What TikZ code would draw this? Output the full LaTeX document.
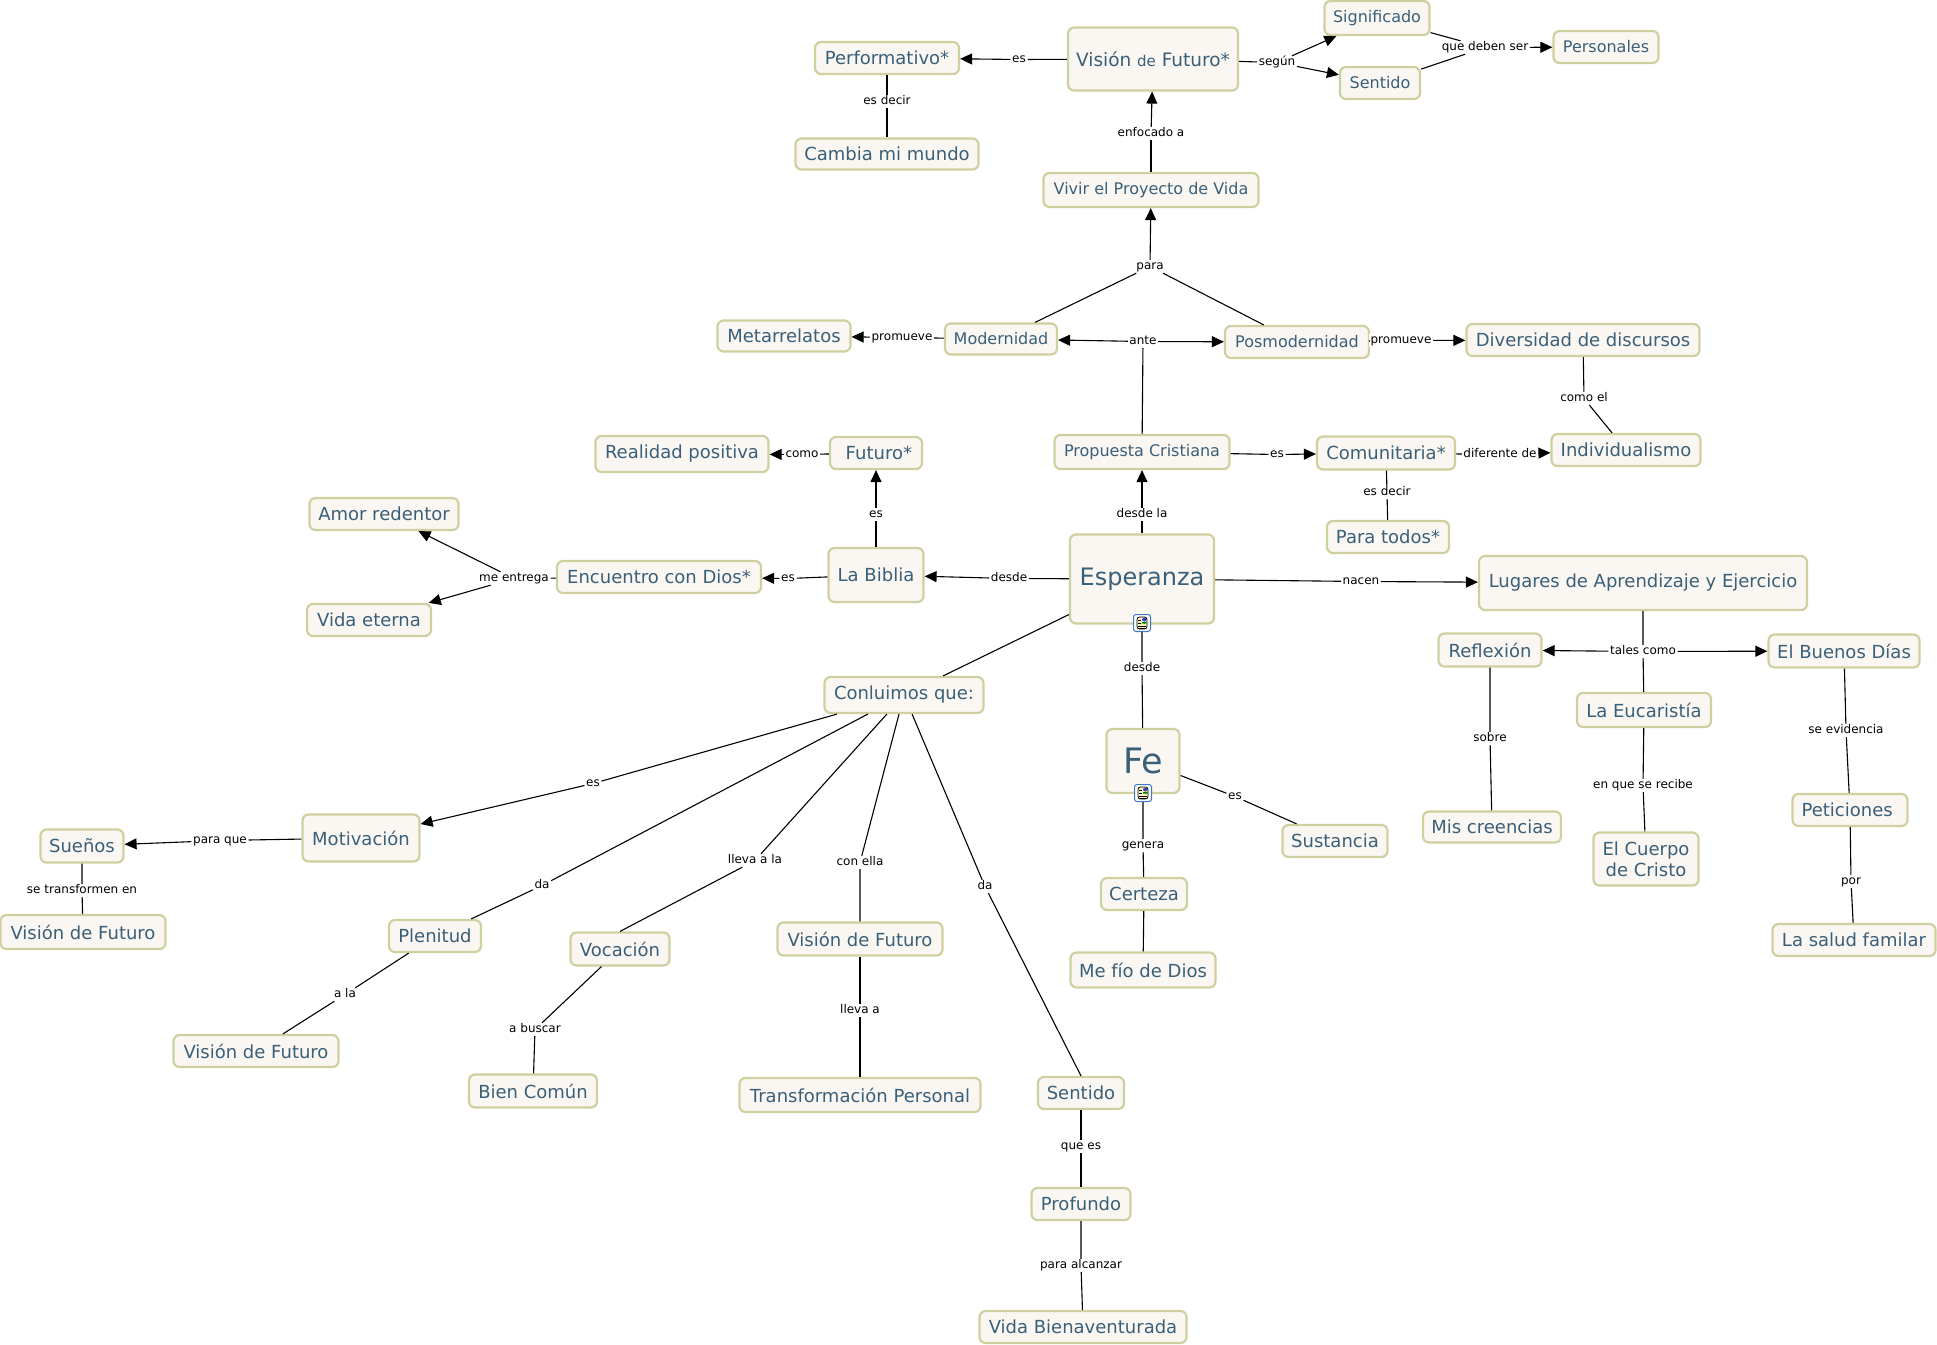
\documentclass[tikz,border=0pt]{standalone}
\usepackage{fontspec}
\setmainfont{DejaVu Sans}
\usetikzlibrary{arrows.meta}
\definecolor{conceptfill}{RGB}{250,247,243}
\definecolor{conceptline}{RGB}{207,207,160}
\definecolor{concepttext}{RGB}{58,95,120}
\definecolor{iconblue}{RGB}{60,120,200}
\definecolor{iconpaper}{RGB}{250,245,190}
\tikzset{
  concept/.style={draw=conceptline, fill=conceptfill, line width=2.2pt, rounded corners=6pt,
    text=concepttext, align=center, inner sep=0pt, font=\fontsize{18}{21}\selectfont},
  smalltext/.style={font=\fontsize{16}{19}\selectfont},
  linklabel/.style={fill=white, text=black, inner xsep=1.5pt, inner ysep=0.5pt, text height=9pt, text depth=3pt, yshift=-1.5pt, font=\fontsize{12}{14}\selectfont},
  link/.style={black, line width=1.1pt},
  docicon/.style={draw=iconblue, fill=white, line width=1pt, rounded corners=2.5pt, minimum size=17pt, inner sep=0pt,
    path picture={
      \fill[iconpaper, draw=black, line width=0.8pt] ([shift={(-5pt,-6pt)}]path picture bounding box.center) rectangle ([shift={(5pt,6pt)}]path picture bounding box.center);
      \fill[green!50!black] ([shift={(0pt,-1pt)}]path picture bounding box.center) rectangle ([shift={(4.5pt,1.5pt)}]path picture bounding box.center);
      \fill[blue!50!gray] ([shift={(0pt,1.5pt)}]path picture bounding box.center) rectangle ([shift={(4.5pt,5.5pt)}]path picture bounding box.center);
      \draw[black, line width=0.7pt] ([shift={(-4pt,3pt)}]path picture bounding box.center) -- +(3pt,0) ([shift={(-4pt,0pt)}]path picture bounding box.center) -- +(3pt,0)
        ([shift={(-4pt,-3pt)}]path picture bounding box.center) -- +(8pt,0) ([shift={(-4pt,-5pt)}]path picture bounding box.center) -- +(8pt,0);
    }},
}

\begin{document}
\begin{tikzpicture}[x=1pt, y=-1pt, >={Triangle[length=12pt,width=11pt]}]
  \useasboundingbox (0,0) rectangle (1937,1344);

  % Concepts, upper part
  \node[concept, minimum width=170pt, minimum height=63pt] (visionTop) at (1153,59) {\fontsize{18.5}{21}\selectfont Visión {\fontsize{15}{21}\selectfont de} Futuro*};
  \node[concept, smalltext, minimum width=105pt, minimum height=34pt] (significado) at (1377,18) {Significado};
  \node[concept, smalltext, minimum width=80pt, minimum height=32pt] (sentidoTop) at (1380,83) {Sentido};
  \node[concept, smalltext, minimum width=105pt, minimum height=32pt] (personales) at (1606,47) {Personales};
  \node[concept, minimum width=144pt, minimum height=32pt] (performativo) at (887,58) {Performativo*};
  \node[concept, minimum width=183pt, minimum height=31pt] (cambia) at (887,154) {Cambia mi mundo};
  \node[concept, smalltext, minimum width=215pt, minimum height=34pt] (vivir) at (1151,190) {Vivir el Proyecto de Vida};
  \node[concept, smalltext, minimum width=112pt, minimum height=31pt] (modernidad) at (1001,339) {Modernidad};
  \node[concept, smalltext, minimum width=144pt, minimum height=32pt] (posmodernidad) at (1297,342) {Posmodernidad};
  \node[concept, minimum width=233pt, minimum height=32pt] (diversidad) at (1583,340) {Diversidad de discursos};
  \node[concept, minimum width=133pt, minimum height=31pt] (metarrelatos) at (784,336) {Metarrelatos};
  \node[concept, minimum width=149pt, minimum height=32pt] (individualismo) at (1626,450) {Individualismo};
  \node[concept, smalltext, minimum width=175pt, minimum height=34pt] (propuesta) at (1142,452) {Propuesta Cristiana};
  \node[concept, minimum width=138pt, minimum height=33pt] (comunitaria) at (1386,453) {Comunitaria*};
  \node[concept, minimum width=92pt, minimum height=32pt] (futuro) at (876,453) {\ Futuro*};
  \node[concept, minimum width=173pt, minimum height=36pt] (realidad) at (682,454) {Realidad positiva};
  \node[concept, minimum width=122pt, minimum height=32pt] (paratodos) at (1388,537) {Para todos*};
  \node[concept, minimum width=149pt, minimum height=32pt] (amor) at (384,514) {Amor redentor};
  \node[concept, minimum width=124pt, minimum height=32pt] (vidaeterna) at (369,620) {Vida eterna};
  \node[concept, minimum width=204pt, minimum height=32pt] (encuentro) at (659,577) {Encuentro con Dios*};
  \node[concept, minimum width=95pt, minimum height=54pt] (biblia) at (876,575) {La Biblia};
  \node[concept, minimum width=144pt, minimum height=89pt, font=\fontsize{24}{28}\selectfont] (esperanza) at (1142,579) {Esperanza};
  \node[concept, minimum width=328pt, minimum height=54pt] (lugares) at (1643,583) {Lugares de Aprendizaje y Ejercicio};

  % Concepts, right part
  \node[concept, minimum width=103pt, minimum height=33pt] (reflexion) at (1490,650) {Reflexión};
  \node[concept, minimum width=151pt, minimum height=33pt] (buenosdias) at (1844,651) {El Buenos Días};
  \node[concept, minimum width=134pt, minimum height=34pt] (eucaristia) at (1644,710) {La Eucaristía};
  \node[concept, minimum width=138pt, minimum height=31pt] (creencias) at (1492,827) {Mis creencias};
  \node[concept, minimum width=105pt, minimum height=53pt] (cuerpo) at (1646,859) {El Cuerpo\\de Cristo};
  \node[concept, minimum width=115pt, minimum height=32pt] (peticiones) at (1850,810) {Peticiones\ };
  \node[concept, minimum width=163pt, minimum height=32pt] (salud) at (1854,940) {La salud familar};

  % Concepts, middle and lower part
  \node[concept, minimum width=159pt, minimum height=36pt] (conluimos) at (904,695) {Conluimos que:};
  \node[concept, minimum width=73pt, minimum height=64pt, font=\fontsize{35}{38}\selectfont] (fe) at (1143,761) {Fe};
  \node[concept, minimum width=105pt, minimum height=32pt] (sustancia) at (1335,841) {Sustancia};
  \node[concept, minimum width=86pt, minimum height=32pt] (certeza) at (1144,894) {Certeza};
  \node[concept, minimum width=145pt, minimum height=35pt] (mefio) at (1143,970) {Me fío de Dios};
  \node[concept, minimum width=117pt, minimum height=47pt] (motivacion) at (361,838) {Motivación};
  \node[concept, minimum width=83pt, minimum height=33pt] (suenos) at (82,846) {Sueños};
  \node[concept, minimum width=165pt, minimum height=34pt] (visionLeft) at (83,932) {Visión de Futuro};
  \node[concept, minimum width=92pt, minimum height=32pt] (plenitud) at (435,936) {Plenitud};
  \node[concept, minimum width=99pt, minimum height=33pt] (vocacion) at (620,949) {Vocación};
  \node[concept, minimum width=165pt, minimum height=33pt] (visionMid) at (860,939) {Visión de Futuro};
  \node[concept, minimum width=165pt, minimum height=32pt] (visionLow) at (256,1051) {Visión de Futuro};
  \node[concept, minimum width=128pt, minimum height=33pt] (biencomun) at (533,1091) {Bien Común};
  \node[concept, minimum width=241pt, minimum height=34pt] (transformacion) at (860,1095) {Transformación Personal};
  \node[concept, minimum width=86pt, minimum height=32pt] (sentidoLow) at (1081,1093) {Sentido};
  \node[concept, minimum width=99pt, minimum height=32pt] (profundo) at (1081,1204) {Profundo};
  \node[concept, minimum width=207pt, minimum height=32pt] (bienaventurada) at (1083,1327) {Vida Bienaventurada};

  % Link labels
  \node[linklabel] (lblEsVision) at (1019,58) {es};
  \node[linklabel] (lblSegun) at (1277,61) {según};
  \node[linklabel] (lblDeben) at (1485,46) {que deben ser};
  \node[linklabel] (lblDecirPerf) at (887,100) {es decir};
  \node[linklabel] (lblEnfocado) at (1151,132) {enfocado a};
  \node[linklabel] (lblPara) at (1150,265) {para};
  \node[linklabel] (lblAnte) at (1143,340) {ante};
  \node[linklabel] (lblPromMod) at (902,336) {promueve};
  \node[linklabel] (lblPromPos) at (1401,339) {promueve};
  \node[linklabel] (lblComoEl) at (1584,397) {como el};
  \node[linklabel] (lblDesdeLa) at (1142,513) {desde la};
  \node[linklabel] (lblEsProp) at (1277,453) {es};
  \node[linklabel] (lblDiferente) at (1500,453) {diferente de};
  \node[linklabel] (lblDecirCom) at (1387,491) {es decir};
  \node[linklabel] (lblComo) at (802,453) {como};
  \node[linklabel] (lblEsBiblia) at (876,513) {es};
  \node[linklabel] (lblDesdeBib) at (1009,577) {desde};
  \node[linklabel] (lblEsEnc) at (788,577) {es};
  \node[linklabel] (lblEntrega) at (514,577) {me entrega};
  \node[linklabel] (lblNacen) at (1361,580) {nacen};
  \node[linklabel] (lblTales) at (1643,650) {tales como};
  \node[linklabel] (lblSobre) at (1490,737) {sobre};
  \node[linklabel] (lblRecibe) at (1643,784) {en que se recibe};
  \node[linklabel] (lblEvidencia) at (1846,729) {se evidencia};
  \node[linklabel] (lblPor) at (1851,880) {por};
  \node[linklabel] (lblDesdeFe) at (1142,667) {desde};
  \node[linklabel] (lblEsFe) at (1235,795) {es};
  \node[linklabel] (lblGenera) at (1143,844) {genera};
  \node[linklabel] (lblEsMot) at (593,782) {es};
  \node[linklabel] (lblParaQue) at (220,839) {para que};
  \node[linklabel] (lblTransf) at (82,889) {se transformen en};
  \node[linklabel] (lblDaPlen) at (542,884) {da};
  \node[linklabel] (lblALa) at (345,993) {a la};
  \node[linklabel] (lblLlevaLa) at (755,859) {lleva a la};
  \node[linklabel] (lblBuscar) at (535,1028) {a buscar};
  \node[linklabel] (lblConElla) at (860,861) {con ella};
  \node[linklabel] (lblLleva) at (860,1009) {lleva a};
  \node[linklabel] (lblDaSent) at (985,885) {da};
  \node[linklabel] (lblQueEs) at (1081,1145) {que es};
  \node[linklabel] (lblAlcanzar) at (1081,1264) {para alcanzar};

  % Connectors, upper part
  \draw[link] (visionTop) -- (lblEsVision);
  \draw[link, ->] (lblEsVision) -- (performativo);
  \draw[link] (visionTop) -- (lblSegun);
  \draw[link, ->] (lblSegun) -- (significado);
  \draw[link, ->] (lblSegun) -- (sentidoTop);
  \draw[link] (significado) -- (lblDeben);
  \draw[link] (sentidoTop) -- (lblDeben);
  \draw[link, ->] (lblDeben) -- (personales);
  \draw[link] (performativo) -- (lblDecirPerf) -- (cambia);
  \draw[link] (vivir) -- (lblEnfocado);
  \draw[link, ->] (lblEnfocado) -- (visionTop);
  \draw[link] (modernidad) -- (lblPara);
  \draw[link] (posmodernidad) -- (lblPara);
  \draw[link, ->] (lblPara) -- (vivir);
  \draw[link] (propuesta) -- (lblAnte);
  \draw[link, ->] (lblAnte) -- (modernidad);
  \draw[link, ->] (lblAnte) -- (posmodernidad);
  \draw[link] (modernidad) -- (lblPromMod);
  \draw[link, ->] (lblPromMod) -- (metarrelatos);
  \draw[link] (posmodernidad) -- (lblPromPos);
  \draw[link, ->] (lblPromPos) -- (diversidad);
  \draw[link] (diversidad) -- (lblComoEl) -- (individualismo);

  % Connectors around Esperanza
  \draw[link] (esperanza) -- (lblDesdeLa);
  \draw[link, ->] (lblDesdeLa) -- (propuesta);
  \draw[link] (propuesta) -- (lblEsProp);
  \draw[link, ->] (lblEsProp) -- (comunitaria);
  \draw[link] (comunitaria) -- (lblDiferente);
  \draw[link, ->] (lblDiferente) -- (individualismo);
  \draw[link] (comunitaria) -- (lblDecirCom) -- (paratodos);
  \draw[link] (futuro) -- (lblComo);
  \draw[link, ->] (lblComo) -- (realidad);
  \draw[link] (biblia) -- (lblEsBiblia);
  \draw[link, ->] (lblEsBiblia) -- (futuro);
  \draw[link] (esperanza) -- (lblDesdeBib);
  \draw[link, ->] (lblDesdeBib) -- (biblia);
  \draw[link] (biblia) -- (lblEsEnc);
  \draw[link, ->] (lblEsEnc) -- (encuentro);
  \draw[link] (encuentro) -- (lblEntrega);
  \draw[link, ->] (lblEntrega) -- (amor);
  \draw[link, ->] (lblEntrega) -- (vidaeterna);
  \draw[link] (esperanza) -- (lblNacen);
  \draw[link, ->] (lblNacen) -- (lugares);
  \draw[link] (esperanza) -- (conluimos);

  % Connectors, right part
  \draw[link] (lugares) -- (lblTales) -- (eucaristia);
  \draw[link, ->] (lblTales) -- (reflexion);
  \draw[link, ->] (lblTales) -- (buenosdias);
  \draw[link] (reflexion) -- (lblSobre) -- (creencias);
  \draw[link] (eucaristia) -- (lblRecibe) -- (cuerpo);
  \draw[link] (buenosdias) -- (lblEvidencia) -- (peticiones);
  \draw[link] (peticiones) -- (lblPor) -- (salud);

  % Connectors around Fe
  \draw[link] (esperanza) -- (lblDesdeFe) -- (fe);
  \draw[link] (fe) -- (lblEsFe) -- (sustancia);
  \draw[link] (fe) -- (lblGenera) -- (certeza);
  \draw[link] (certeza) -- (mefio);

  % Connectors from Conluimos
  \draw[link] (conluimos) -- (lblEsMot);
  \draw[link, ->] (lblEsMot) -- (motivacion);
  \draw[link] (motivacion) -- (lblParaQue);
  \draw[link, ->] (lblParaQue) -- (suenos);
  \draw[link] (suenos) -- (lblTransf) -- (visionLeft);
  \draw[link] (conluimos) -- (lblDaPlen) -- (plenitud);
  \draw[link] (plenitud) -- (lblALa) -- (visionLow);
  \draw[link] (conluimos) -- (lblLlevaLa) -- (vocacion.north);
  \draw[link] (vocacion) -- (lblBuscar) -- (biencomun);
  \draw[link] (conluimos) -- (lblConElla) -- (visionMid);
  \draw[link] (visionMid) -- (lblLleva) -- (transformacion);
  \draw[link] (conluimos) -- (lblDaSent) -- (sentidoLow.north);
  \draw[link] (sentidoLow) -- (lblQueEs) -- (profundo);
  \draw[link] (profundo) -- (lblAlcanzar) -- (bienaventurada);

  % Resource icons
  \node[docicon] (iconEsperanza) at (1142,623) {};
  \node[docicon] (iconFe) at (1143,793) {};
\end{tikzpicture}
\end{document}
